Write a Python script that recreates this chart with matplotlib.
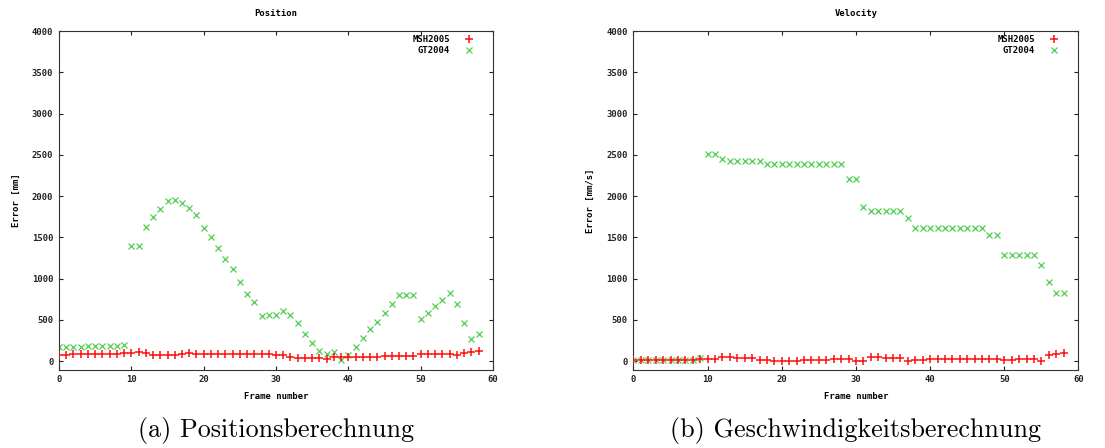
import matplotlib
matplotlib.use("Agg")
import matplotlib.pyplot as plt

# Frame indices shared by both panels
frames = list(range(59))

# Position error [mm]
pos_msh2005 = [81, 81, 93, 93, 93, 93, 93, 93, 93, 101,
               101, 113, 101, 81, 81, 81, 81, 89, 101, 93,
               93, 93, 93, 93, 93, 93, 93, 93, 93, 93,
               77, 81, 52, 40, 40, 40, 40, 28, 48, 52,
               52, 52, 52, 52, 52, 64, 64, 64, 64, 69,
               89, 89, 89, 89, 89, 81, 101, 113, 125]
pos_gt2004 = [173, 173, 173, 173, 185, 185, 185, 185, 185, 197,
              1390, 1390, 1628, 1745, 1850, 1935, 1950, 1920, 1860, 1770,
              1612, 1511, 1370, 1241, 1112, 959, 818, 713, 544, 556,
              556, 604, 564, 463, 334, 226, 125, 93, 113, 20,
              73, 173, 282, 391, 480, 588, 693, 798, 798, 798,
              508, 588, 665, 746, 826, 693, 463, 266, 326]

# Velocity error [mm/s]
vel_msh2005 = [12, 12, 12, 12, 12, 12, 12, 12, 12, 24,
               24, 24, 52, 52, 40, 40, 40, 12, 12, 8,
               8, 8, 8, 12, 12, 12, 12, 24, 24, 24,
               8, 8, 52, 52, 40, 40, 40, 0, 12, 12,
               24, 24, 24, 24, 24, 24, 24, 24, 24, 24,
               12, 12, 24, 24, 24, 4, 81, 93, 97]
vel_gt2004 = [12, 12, 12, 12, 12, 12, 12, 12, 12, 44,
              2510, 2510, 2455, 2425, 2425, 2425, 2425, 2425, 2395, 2395,
              2395, 2395, 2395, 2395, 2395, 2395, 2395, 2395, 2395, 2210,
              2210, 1866, 1814, 1814, 1814, 1814, 1814, 1733, 1616, 1616,
              1616, 1616, 1616, 1616, 1616, 1616, 1616, 1616, 1531, 1531,
              1282, 1282, 1282, 1282, 1282, 1161, 959, 826, 826]

panels = [
    dict(title="Position", ylabel="Error [mm]", msh=pos_msh2005, gt=pos_gt2004,
         caption="(a) Positionsberechnung", rect=[0.0534, 0.1752, 0.3928, 0.7556]),
    dict(title="Velocity", ylabel="Error [mm/s]", msh=vel_msh2005, gt=vel_gt2004,
         caption="(b) Geschwindigkeitsberechnung", rect=[0.5733, 0.1752, 0.4027, 0.7556]),
]

x_ticks = [0, 10, 20, 30, 40, 50, 60]
y_ticks = [0, 500, 1000, 1500, 2000, 2500, 3000, 3500, 4000]

term_font = dict(family="DejaVu Sans Mono", weight="bold", size=6.4)
red = "#ff1010"
green = "#50cc50"

fig = plt.figure(figsize=(11.05, 4.48), dpi=100)

for p in panels:
    ax = fig.add_axes(p["rect"])
    ax.plot(frames, p["msh"], linestyle="none", marker="+", markersize=6,
            markeredgewidth=1.1, color=red, label="MSH2005", zorder=3)
    ax.plot(frames, p["gt"], linestyle="none", marker="x", markersize=5,
            markeredgewidth=0.9, color=green, label="GT2004", zorder=2)
    ax.set_xlim(0, 60)
    ax.set_ylim(-100, 4000)
    ax.set_xticks(x_ticks)
    ax.set_yticks(y_ticks)
    ax.set_xticklabels([str(t) for t in x_ticks], fontdict=term_font)
    ax.set_yticklabels([str(t) for t in y_ticks], fontdict=term_font)
    ax.tick_params(direction="in", length=3, width=0.8, top=True, right=True,
                   pad=4, colors="#222222")
    for s in ax.spines.values():
        s.set_linewidth(0.8)
        s.set_color("#333333")
    ax.set_title(p["title"], fontdict=term_font, pad=11)
    ax.set_xlabel("Frame number", fontdict=term_font, labelpad=6)
    ax.set_ylabel(p["ylabel"], fontdict=term_font, labelpad=8)
    leg = ax.legend(loc="upper right", markerfirst=False, frameon=False,
                    prop=dict(family="DejaVu Sans Mono", weight="bold", size=6.4),
                    handlelength=1.2, handletextpad=1.6, labelspacing=0.22,
                    borderaxespad=0.2, borderpad=0.3,
                    bbox_to_anchor=(0.968, 1.0))
    for t in leg.get_texts():
        t.set_ha("right")
    x0, y0, w, h = p["rect"]
    fig.text(x0 + w / 2, 0.04, p["caption"], ha="center", va="center",
             family="cmr10", size=18.8)

fig.savefig("out.png", dpi=100)
